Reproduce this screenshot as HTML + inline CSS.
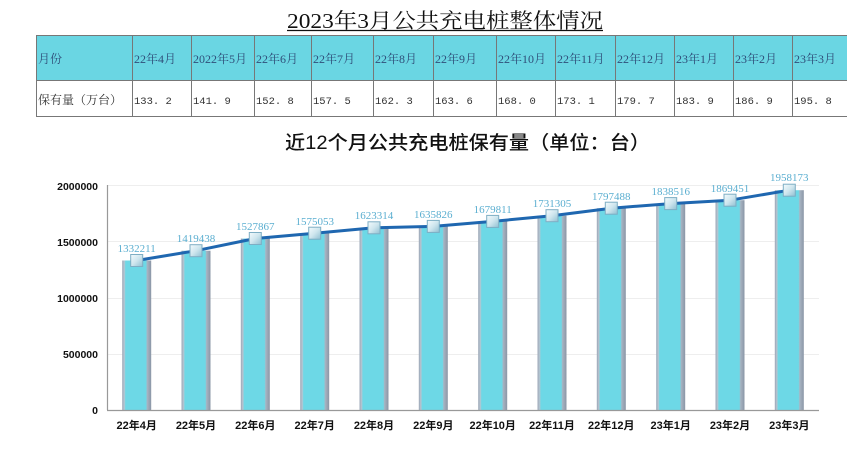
<!DOCTYPE html>
<html>
<head>
<meta charset="utf-8">
<style>
  html,body{margin:0;padding:0;background:#fff;}
  svg{display:block;}
</style>
</head>
<body>
<svg width="847" height="452" viewBox="0 0 847 452" xmlns="http://www.w3.org/2000/svg">
  <defs>
    <linearGradient id="bar" x1="0" y1="0" x2="1" y2="0">
      <stop offset="0" stop-color="#9aa6b6"/>
      <stop offset="0.07" stop-color="#b8c4d0"/>
      <stop offset="0.12" stop-color="#6dd8e6"/>
      <stop offset="0.82" stop-color="#6dd8e6"/>
      <stop offset="0.86" stop-color="#a8b4c2"/>
      <stop offset="1" stop-color="#8a96a6"/>
    </linearGradient>
    <linearGradient id="mk" x1="0" y1="0" x2="1" y2="1">
      <stop offset="0" stop-color="#f4fbfd"/>
      <stop offset="0.5" stop-color="#cfe6ee"/>
      <stop offset="1" stop-color="#8fbfd2"/>
    </linearGradient>
  </defs>

  <!-- Top title -->
  <text x="287" y="28" font-family="'Liberation Serif','Noto Serif CJK SC',serif" font-size="21" fill="#111" textLength="316" lengthAdjust="spacingAndGlyphs">2023年3月公共充电桩整体情况</text>
  <line x1="287" y1="30.5" x2="603" y2="30.5" stroke="#111" stroke-width="1.3"/>

  <!-- Table -->
  <rect x="36" y="35" width="811" height="45" fill="#6ad6e3"/>
  <g stroke="#777" stroke-width="1">
    <line x1="36" y1="35.5" x2="847" y2="35.5"/>
    <line x1="36" y1="80.5" x2="847" y2="80.5"/>
    <line x1="36" y1="116.5" x2="847" y2="116.5"/>
    <line x1="36.5" y1="35" x2="36.5" y2="117"/>
    <line x1="132.5" y1="35" x2="132.5" y2="117"/>
    <line x1="191.5" y1="35" x2="191.5" y2="117"/>
    <line x1="254.5" y1="35" x2="254.5" y2="117"/>
    <line x1="311.5" y1="35" x2="311.5" y2="117"/>
    <line x1="373.5" y1="35" x2="373.5" y2="117"/>
    <line x1="433.5" y1="35" x2="433.5" y2="117"/>
    <line x1="496.5" y1="35" x2="496.5" y2="117"/>
    <line x1="555.5" y1="35" x2="555.5" y2="117"/>
    <line x1="615.5" y1="35" x2="615.5" y2="117"/>
    <line x1="674.5" y1="35" x2="674.5" y2="117"/>
    <line x1="733.5" y1="35" x2="733.5" y2="117"/>
    <line x1="792.5" y1="35" x2="792.5" y2="117"/>
  </g>
  <g font-family="'Liberation Serif','Noto Serif CJK SC',serif" font-size="12" fill="#2f4f7a">
    <text x="38" y="63">月份</text>
    <text x="134" y="63">22年4月</text>
    <text x="193" y="63">2022年5月</text>
    <text x="256" y="63">22年6月</text>
    <text x="313" y="63">22年7月</text>
    <text x="375" y="63">22年8月</text>
    <text x="435" y="63">22年9月</text>
    <text x="498" y="63">22年10月</text>
    <text x="557" y="63">22年11月</text>
    <text x="617" y="63">22年12月</text>
    <text x="676" y="63">23年1月</text>
    <text x="735" y="63">23年2月</text>
    <text x="794" y="63">23年3月</text>
  </g>
  <g font-family="'Liberation Mono','Noto Serif CJK SC',monospace" font-size="10.5" fill="#333">
    <text x="38" y="104" font-family="'Liberation Serif','Noto Serif CJK SC',serif" font-size="12">保有量（万台）</text>
    <text x="134" y="104">133. 2</text>
    <text x="193" y="104">141. 9</text>
    <text x="256" y="104">152. 8</text>
    <text x="313" y="104">157. 5</text>
    <text x="375" y="104">162. 3</text>
    <text x="435" y="104">163. 6</text>
    <text x="498" y="104">168. 0</text>
    <text x="557" y="104">173. 1</text>
    <text x="617" y="104">179. 7</text>
    <text x="676" y="104">183. 9</text>
    <text x="735" y="104">186. 9</text>
    <text x="794" y="104">195. 8</text>
  </g>

  <!-- Chart title -->
  <text x="285" y="149" font-family="'Liberation Sans','Noto Sans CJK SC',sans-serif" font-size="19" font-weight="500" fill="#111" textLength="365" lengthAdjust="spacingAndGlyphs">近12个月公共充电桩保有量（单位：台）</text>

  <!-- Grid -->
  <g stroke="#eeeeee" stroke-width="1">
    <line x1="107" y1="185.5" x2="819" y2="185.5"/>
    <line x1="107" y1="241.5" x2="819" y2="241.5"/>
    <line x1="107" y1="298.5" x2="819" y2="298.5"/>
    <line x1="107" y1="354.5" x2="819" y2="354.5"/>
  </g>

  <!-- Y labels -->
  <g font-family="'Liberation Sans',sans-serif" font-size="10.5" font-weight="bold" fill="#111" text-anchor="end">
    <text x="98" y="190">2000000</text>
    <text x="98" y="246">1500000</text>
    <text x="98" y="302">1000000</text>
    <text x="98" y="358">500000</text>
    <text x="98" y="414">0</text>
  </g>

  <!-- Bars -->
  <g fill="url(#bar)">
    <rect x="122.2" y="260.5" width="29" height="149.5"/>
    <rect x="181.5" y="250.7" width="29" height="159.3"/>
    <rect x="240.8" y="238.5" width="29" height="171.5"/>
    <rect x="300.2" y="233.2" width="29" height="176.8"/>
    <rect x="359.5" y="227.8" width="29" height="182.2"/>
    <rect x="418.8" y="226.4" width="29" height="183.6"/>
    <rect x="478.2" y="221.4" width="29" height="188.6"/>
    <rect x="537.5" y="215.7" width="29" height="194.3"/>
    <rect x="596.8" y="208.2" width="29" height="201.8"/>
    <rect x="656.2" y="203.6" width="29" height="206.4"/>
    <rect x="715.5" y="200.2" width="29" height="209.8"/>
    <rect x="774.8" y="190.2" width="29" height="219.8"/>
  </g>

  <!-- Axes -->
  <line x1="107.5" y1="185" x2="107.5" y2="410" stroke="#999" stroke-width="1.2"/>
  <line x1="107" y1="410.5" x2="819" y2="410.5" stroke="#999" stroke-width="1.2"/>

  <!-- Line -->
  <polyline fill="none" stroke="#1f67b0" stroke-width="3" stroke-linejoin="round"
    points="136.7,260.5 196.0,250.7 255.3,238.5 314.7,233.2 374.0,227.8 433.3,226.4 492.7,221.4 552.0,215.7 611.3,208.2 670.7,203.6 730.0,200.2 789.3,190.2"/>

  <!-- Markers -->
  <g fill="url(#mk)" stroke="#7eaec4" stroke-width="1">
    <rect x="130.7" y="254.5" width="12" height="12"/>
    <rect x="190.0" y="244.7" width="12" height="12"/>
    <rect x="249.3" y="232.5" width="12" height="12"/>
    <rect x="308.7" y="227.2" width="12" height="12"/>
    <rect x="368.0" y="221.8" width="12" height="12"/>
    <rect x="427.3" y="220.4" width="12" height="12"/>
    <rect x="486.7" y="215.4" width="12" height="12"/>
    <rect x="546.0" y="209.7" width="12" height="12"/>
    <rect x="605.3" y="202.2" width="12" height="12"/>
    <rect x="664.7" y="197.6" width="12" height="12"/>
    <rect x="724.0" y="194.2" width="12" height="12"/>
    <rect x="783.3" y="184.2" width="12" height="12"/>
  </g>

  <!-- Data labels -->
  <g font-family="'Liberation Serif',serif" font-size="11" fill="#5aaed0" text-anchor="middle">
    <text x="136.7" y="252">1332211</text>
    <text x="196.0" y="242">1419438</text>
    <text x="255.3" y="230">1527867</text>
    <text x="314.7" y="225">1575053</text>
    <text x="374.0" y="219">1623314</text>
    <text x="433.3" y="218">1635826</text>
    <text x="492.7" y="213">1679811</text>
    <text x="552.0" y="207">1731305</text>
    <text x="611.3" y="200">1797488</text>
    <text x="670.7" y="195">1838516</text>
    <text x="730.0" y="192">1869451</text>
    <text x="789.3" y="181">1958173</text>
  </g>

  <!-- X labels -->
  <g font-family="'Liberation Sans','Noto Sans CJK SC',sans-serif" font-size="11" font-weight="bold" fill="#111" text-anchor="middle">
    <text x="136.7" y="429">22年4月</text>
    <text x="196.0" y="429">22年5月</text>
    <text x="255.3" y="429">22年6月</text>
    <text x="314.7" y="429">22年7月</text>
    <text x="374.0" y="429">22年8月</text>
    <text x="433.3" y="429">22年9月</text>
    <text x="492.7" y="429">22年10月</text>
    <text x="552.0" y="429">22年11月</text>
    <text x="611.3" y="429">22年12月</text>
    <text x="670.7" y="429">23年1月</text>
    <text x="730.0" y="429">23年2月</text>
    <text x="789.3" y="429">23年3月</text>
  </g>
</svg>
</body>
</html>
